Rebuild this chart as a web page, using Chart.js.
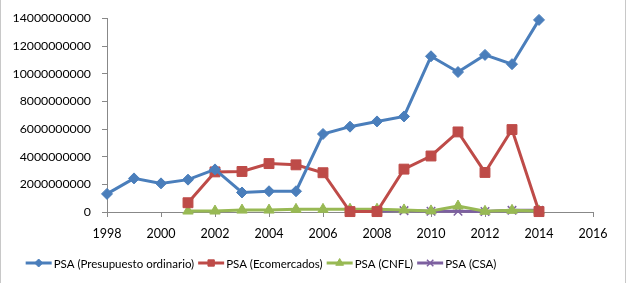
<!DOCTYPE html>
<html>
<head>
<meta charset="utf-8">
<script src="https://cdn.jsdelivr.net/npm/chart.js@4/dist/chart.umd.min.js"></script>
<style>
  html, body { margin: 0; padding: 0; background: #fff; }
  #wrap { width: 631px; height: 283px; position: relative; }
</style>
</head>
<body>
<div id="wrap"><canvas id="chart" width="631" height="283"></canvas></div>
<script>
// --- Datos ---
const years = [1998, 1999, 2000, 2001, 2002, 2003, 2004, 2005, 2006, 2007, 2008, 2009, 2010, 2011, 2012, 2013, 2014];
const presupuestoOrdinario = [1.31e9, 2.43e9, 2.07e9, 2.34e9, 3.08e9, 1.41e9, 1.5e9, 1.5e9, 5.64e9, 6.17e9, 6.55e9, 6.91e9, 11.26e9, 10.12e9, 11.36e9, 10.69e9, 13.89e9];
const ecomercados = [null, null, null, 0.67e9, 2.9e9, 2.93e9, 3.5e9, 3.41e9, 2.84e9, 0.03e9, 0.03e9, 3.1e9, 4.05e9, 5.79e9, 2.86e9, 5.96e9, 0.03e9];
const cnfl = [null, null, null, 0.07e9, 0.07e9, 0.14e9, 0.14e9, 0.19e9, 0.19e9, 0.2e9, 0.2e9, 0.15e9, 0.08e9, 0.43e9, 0.05e9, 0.12e9, 0.08e9];
const csa = [null, null, null, null, null, null, null, null, null, null, 0.05e9, 0.1e9, 0.05e9, 0.05e9, 0.03e9, 0.12e9, 0.12e9];
const seriesNames = ['PSA (Presupuesto ordinario)', 'PSA (Ecomercados)', 'PSA (CNFL)', 'PSA (CSA)'];
const xTicks = [1998, 2000, 2002, 2004, 2006, 2008, 2010, 2012, 2014, 2016];
const yTicks = [0, 2e9, 4e9, 6e9, 8e9, 10e9, 12e9, 14e9];

const FONT = 'Lato, "Liberation Sans", sans-serif';
const toPoints = (vals) => years.map((y, i) => ({ x: y, y: vals[i] })).filter(p => p.y !== null);

function ds(label, vals, color, style, radius) {
    return {
        label: label,
        data: toPoints(vals),
        borderColor: color,
        backgroundColor: color,
        borderWidth: 3,
        pointStyle: style,
        pointRadius: radius,
        pointBorderWidth: style === 'crossRot' ? 1.5 : 1,
        tension: 0,
        clip: false
    };
}

// --- Leyenda al estilo Excel (línea + marcador) ---
const excelLegend = {
    id: 'excelLegend',
    afterDraw(chart) {
        const c = chart.ctx;
        c.save();
        c.font = '11.5px ' + FONT;
        c.textBaseline = 'middle';
        const lineW = 26, gap = 2, space = 4;
        const items = chart.data.datasets.map(d => ({ d, w: lineW + gap + c.measureText(d.label).width }));
        const total = items.reduce((a, it) => a + it.w, 0) + space * (items.length - 1);
        let x = 261 - total / 2;
        const y = 263;
        items.forEach(it => {
            const d = it.d;
            c.strokeStyle = d.borderColor;
            c.lineWidth = 3;
            c.beginPath();
            c.moveTo(x, y);
            c.lineTo(x + lineW, y);
            c.stroke();
            c.fillStyle = d.backgroundColor;
            c.lineWidth = d.pointBorderWidth;
            Chart.helpers.drawPoint(c, { pointStyle: d.pointStyle, radius: Math.min(d.pointRadius, 6) - 1.5, rotation: 0, borderWidth: d.pointBorderWidth }, x + lineW / 2, y);
            c.fillStyle = '#000';
            c.fillText(d.label, x + lineW + gap, y + 1);
            x += it.w + space;
        });
        c.restore();
    }
};

// marco lateral de la imagen
const frame = {
    id: 'frame',
    afterDraw(chart) {
        const c = chart.ctx;
        c.save();
        c.strokeStyle = '#c8c8c8';
        c.lineWidth = 1;
        c.beginPath();
        c.moveTo(0.5, 0); c.lineTo(0.5, 283);
        c.moveTo(625.5, 0); c.lineTo(625.5, 283);
        c.stroke();
        c.restore();
    }
};

const axisColor = '#888888';

new Chart(document.getElementById('chart'), {
    type: 'line',
    data: {
        datasets: [
            ds(seriesNames[0], presupuestoOrdinario, '#4A7EBB', 'rectRot', 5.5),
            ds(seriesNames[1], ecomercados, '#BE4B48', 'rect', 7),
            ds(seriesNames[2], cnfl, '#98B954', 'triangle', 6),
            ds(seriesNames[3], csa, '#7D60A0', 'crossRot', 6)
        ]
    },
    options: {
        responsive: false,
        animation: false,
        layout: { padding: { left: 0, right: 38, top: 16, bottom: 41 } },
        plugins: {
            legend: { display: false },
            tooltip: { enabled: false }
        },
        scales: {
            x: {
                type: 'linear',
                min: 1998,
                max: 2016,
                afterBuildTicks: (s) => { s.ticks = xTicks.map(v => ({ value: v })); },
                afterFit: (s) => { s.height = 30; },
                ticks: {
                    color: '#000',
                    font: { family: FONT, size: 12.5 },
                    padding: 9,
                    maxRotation: 0,
                    callback: (v) => String(v)
                },
                grid: { drawOnChartArea: false, color: axisColor, tickLength: 5 },
                border: { color: axisColor }
            },
            y: {
                min: 0,
                max: 14e9,
                afterBuildTicks: (s) => { s.ticks = yTicks.map(v => ({ value: v })); },
                afterFit: (s) => { s.width = 107; },
                ticks: {
                    color: '#000',
                    font: { family: FONT, size: 12.3 },
                    padding: 11,
                    callback: (v) => String(v)
                },
                grid: { drawOnChartArea: false, color: axisColor, tickLength: 5 },
                border: { color: axisColor }
            }
        }
    },
    plugins: [excelLegend, frame]
});
</script>
</body>
</html>
